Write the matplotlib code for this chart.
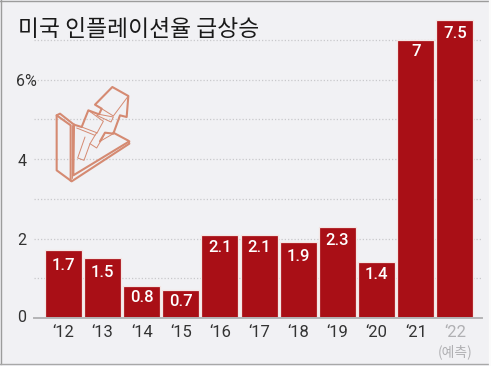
import matplotlib
matplotlib.use("Agg")
import matplotlib.pyplot as plt
from matplotlib.lines import Line2D

W, H = 491, 366
years = ["‘12", "‘13", "‘14", "‘15", "‘16", "‘17", "‘18", "‘19", "‘20", "‘21", "‘22"]
values = [1.7, 1.5, 0.8, 0.7, 2.1, 2.1, 1.9, 2.3, 1.4, 7, 7.5]
labels = ["1.7", "1.5", "0.8", "0.7", "2.1", "2.1", "1.9", "2.3", "1.4", "7", "7.5"]
label_drop_px = [15.5, 14.5, 11.5, 11.5, 12.5, 12.5, 14.5, 13.5, 12, 12, 14]
yticks = [0, 2, 4, 6]
ytick_labels = ["0", "2", "4", "6%"]
gridlines = [1, 2, 3, 4, 5, 6, 7]

BG = "#f1f1f4"
KR = ["Noto Sans CJK KR", "DejaVu Sans"]
NUM = "Roboto"

fig = plt.figure(figsize=(W / 100, H / 100), dpi=100, facecolor=BG)

def frame(x0, y0, x1, y1, color, lw):
    fig.add_artist(Line2D([x0 / W, x1 / W], [1 - y0 / H, 1 - y1 / H], transform=fig.transFigure,
                          color=color, lw=lw, zorder=10))
frame(0, 0.6, W, 0.6, "#9c9c9c", 1.0)
frame(0.6, 0, 0.6, 364, "#9c9c9c", 1.0)
frame(0, 364.3, W, 364.3, "#a8a8a8", 1.0)
frame(0, 365.6, W, 365.6, "#fbfbfb", 1.0)
frame(490, 0, 490, H, "#fbfbfb", 1.6)

ax = fig.add_axes([34 / W, 1 - 318 / H, 448 / W, 318 / H])
ax.set_facecolor("none")
ppu = 39.75
ax.set_ylim(0, 318 / ppu)
ax.set_xlim(-0.748, 10.69)
for s in ["top", "left", "right"]:
    ax.spines[s].set_visible(False)
ax.spines["bottom"].set_color("#b4b4b6")
ax.spines["bottom"].set_linewidth(1.4)
ax.set_yticks([])
for g in gridlines:
    ax.axhline(g, color="#c9c9cc", lw=0.9, ls=(0, (1, 1.6)), zorder=0)

x = list(range(len(values)))
ax.bar(x, values, width=0.945, color="#a90f16", edgecolor="#f4e6e4", linewidth=0.9, zorder=2)
for xi, v, l, d in zip(x, values, labels, label_drop_px):
    ax.annotate(l, (xi, v), xytext=(0, -d), textcoords="offset pixels", ha="center", va="center",
                color="white", fontsize=12, family=NUM, fontweight="medium", zorder=3)

ax.set_xticks(x)
ax.set_xticklabels(years, family=NUM, fontsize=12, color="#333333")
ax.tick_params(axis="x", length=0, pad=5)
ax.get_xticklabels()[-1].set_color("#b0b0b3")
ax.text(10, -0.86, "(예측)", family=KR, fontsize=10, color="#b0b0b3", ha="center", va="center")

for t, l in zip(yticks, ytick_labels):
    ax.annotate(l, (0, t), xycoords=("axes fraction", "data"),
                xytext=(-8 if l == "6%" else -12, -2 if t else 0),
                textcoords="offset pixels", ha="center", va="center",
                family=NUM, fontsize=11.5, color="#333333")

fig.text(18 / W, 1 - 30 / H, "미국 인플레이션율 급상승", family=KR, fontsize=16.4,
         color="#1a1a1a", va="center", ha="left", fontweight="medium")

# decorative icon, traced in zoomed reference pixels
C = "#d58a72"
def stroke(pts, lw):
    fig.add_artist(Line2D([(50 + p[0] / 3) / W for p in pts],
                          [1 - (82 + p[1] / 3) / H for p in pts],
                          transform=fig.transFigure, color=C, lw=lw, solid_joinstyle="round",
                          solid_capstyle="round", zorder=5))
thick = [
    [(72, 128), (30, 95), (20, 100), (20, 265), (65, 298), (238, 185), (235, 176), (190, 152)],
    [(20, 100), (62, 130), (62, 296)],
    [(72, 128), (70, 280), (238, 178)],
    [(72, 128), (95, 135), (115, 85), (147, 97), (155, 80), (135, 68), (187, 15), (235, 42),
     (230, 105), (210, 100), (190, 155), (165, 152), (150, 178)],
]
thin = [
    [(147, 97), (190, 105), (183, 120), (140, 100), (147, 97)],
    [(155, 80), (190, 102), (235, 42)],
    [(80, 138), (135, 160), (140, 152), (95, 135)],
    [(115, 85), (160, 118), (140, 155)],
    [(105, 165), (83, 228), (102, 235), (120, 185), (140, 198), (155, 172), (165, 152)],
    [(135, 160), (120, 185)],
    [(150, 178), (190, 155)],
    [(67, 130), (67, 288)],
]
for p in thick:
    stroke(p, 1.5)
for p in thin:
    stroke(p, 0.7)

fig.savefig("out.png", dpi=100, facecolor=BG)
